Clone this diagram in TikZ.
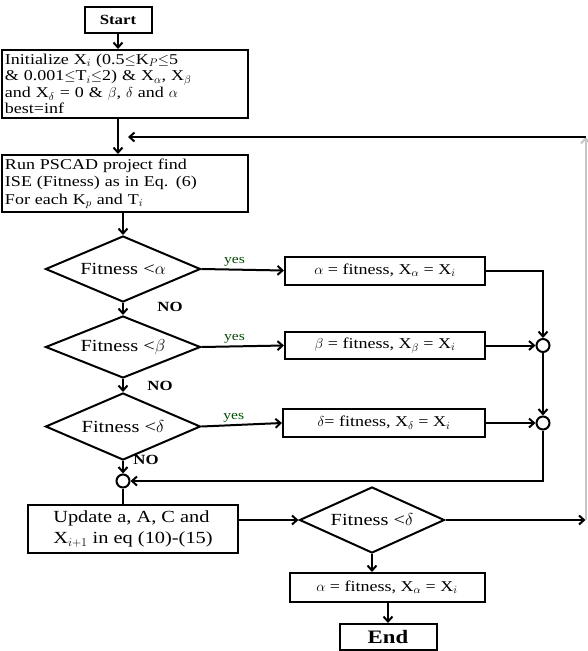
\documentclass[tikz,border=0pt]{standalone}
\usepackage{fontspec}
\setmainfont[FakeStretch=1.2]{Liberation Serif}
\usetikzlibrary{positioning, arrows.meta, shapes.geometric, calc}

\begin{document}
\begin{tikzpicture}[
    x=1pt, y=-1pt,
    >={Straight Barb[length=5pt, width=9pt]},
    line width=2pt,
    box/.style={draw, rectangle, align=left, text width=240pt, inner sep=3pt, font=\fontsize{15}{16.5}\selectfont},
    res/.style={draw, rectangle, minimum width=200pt, minimum height=28pt, align=center, font=\fontsize{15}{17}\selectfont},
    term/.style={draw, rectangle, minimum width=67pt, minimum height=26pt, font=\fontsize{14}{16}\selectfont\bfseries},
    dec/.style={draw, diamond, aspect=2.35, minimum width=155pt, minimum height=66pt, inner sep=0pt, font=\fontsize{17}{19}\selectfont},
    junc/.style={draw, circle, minimum size=13pt, inner sep=0pt},
    arr/.style={->},
    yes/.style={font=\fontsize{13}{15}\selectfont, text=green!30!black, above, inner sep=2pt},
    no/.style={font=\fontsize{14}{16}\selectfont\bfseries},
]
\useasboundingbox (0,0) rectangle (587,651);

% === main column ===
\node[term] (start) at (118,20) {Start};
\node[box, minimum height=68pt] (init) at (125,84) {Initialize X$_i$ (0.5$\le$K$_P$$\le$5\\
\& 0.001$\le$T$_i$$\le$2) \& X$_\alpha$, X$_\beta$\\
and X$_\delta$ = 0 \& $\beta$, $\delta$ and $\alpha$\\
best=inf};
\node[box, minimum height=57pt, font=\fontsize{15}{17.5}\selectfont] (run) at (125,183.5) {Run PSCAD project find\\
ISE (Fitness) as in Eq. (6)\\
For each K$_p$ and T$_i$};

\node[dec] (d1) at (123,269) {Fitness <$\alpha$};
\node[dec, minimum height=62pt] (d2) at (123,347) {Fitness <$\beta$};
\node[dec, minimum height=67pt] (d3) at (123,426.5) {Fitness <$\delta$};

% --- results ---
\node[res] (b1) at (385,270.5) {$\alpha$ = fitness, X$_\alpha$ = X$_i$};
\node[res, minimum height=27pt] (b2) at (385,345.5) {$\beta$ = fitness, X$_\beta$ = X$_i$};
\node[res, minimum width=202pt] (b3) at (384,423) {$\delta$= fitness, X$_\delta$ = X$_i$};

\node[junc] (j1) at (543,345.5) {};
\node[junc] (j2) at (543,423) {};
\node[junc] (j3) at (123,481) {};

% --- lower part ---
\node[draw, rectangle, minimum width=210pt, minimum height=48pt, align=left,
      font=\fontsize{17}{21}\selectfont] (upd) at (133,529) {Update a, A, C and\\
X$_{i+1}$ in eq (10)-(15)};
\node[dec, minimum width=145pt] (d4) at (372,520) {Fitness <$\delta$};
\node[res, minimum width=195pt, minimum height=29pt] (b5) at (387,587.5) {$\alpha$ = fitness, X$_\alpha$ = X$_i$};
\node[term, minimum width=97pt, font=\fontsize{19}{21}\selectfont\bfseries] (endb) at (388,637) {End};

\coordinate (rt) at (585.5,520);
\coordinate (tr) at (585.5,137);
\coordinate (back) at (128,137);

% --- NO labels ---
\node[no] (no1) at (170,307) {NO};
\node[no] (no2) at (160,386) {NO};
\node[no] (no3) at (146,460) {NO};

% --- connectors ---
\draw[arr] (start.south) -- (start.south |- init.north);
\draw[arr] (start.south |- init.south) -- (start.south |- run.north);
\draw[arr] (d1.north |- run.south) -- (d1.north);
\draw[arr] (d1) -- (d2);
\draw[arr] (d2) -- (d3);
\draw[arr] (d3) -- (j3);
\draw (j3) -- (j3 |- upd.north);

\draw[arr] (d1.east) -- (b1.west) node[yes, pos=0.4] {yes};
\draw[arr] (d2.east) -- (b2.west) node[yes, pos=0.4] {yes};
\draw[arr] (d3.east) -- (b3.west) node[yes, pos=0.4] {yes};

\draw[arr] (b1.east) -| (j1.north);
\draw[arr] (b2.east) -- (j1.west);
\draw[arr] (b3.east) -- (j2.west);
\draw[arr] (j1) -- (j2);
\draw[arr] (j2.south) |- (j3.east);

\draw[arr] (upd.east |- d4.west) -- (d4.west);
\draw[arr] (d4.south) -- (d4.south |- b5.north);
\draw[arr] (endb.north |- b5.south) -- (endb.north);

% --- loop back ---
\draw[arr] (d4.east) -- (rt);
\draw[arr, gray!45] (rt) -- (tr);
\draw[arr] (tr) -- (back);
\end{tikzpicture}
\end{document}
